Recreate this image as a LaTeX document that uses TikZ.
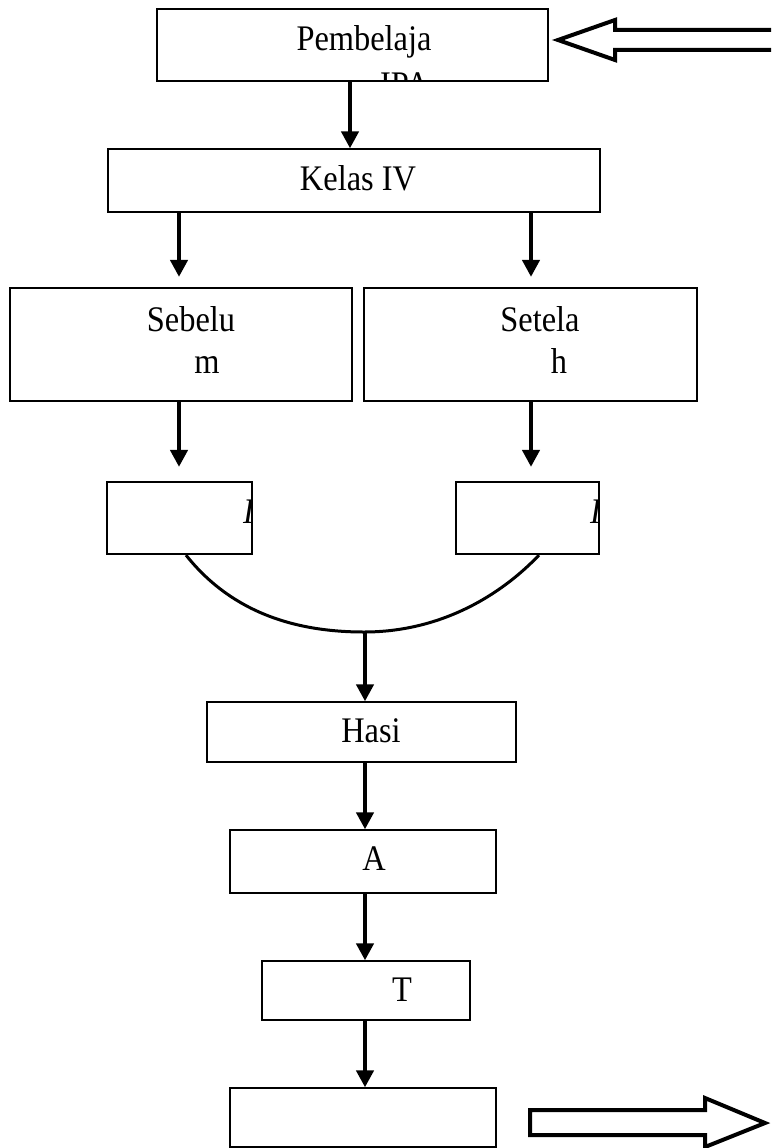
\documentclass[tikz,border=0pt]{standalone}
\usepackage{fontspec}
\setmainfont[FakeStretch=0.9]{Liberation Serif}
\usetikzlibrary{arrows.meta,calc}
\begin{document}
\begin{tikzpicture}[x=1pt,y=-1pt,
  thinbox/.style={draw,line width=1.3pt,rectangle,inner sep=0pt},
  thickbox/.style={draw,line width=2.2pt,rectangle,inner sep=0pt},
  lbl/.style={inner sep=0pt,font=\fontsize{36}{42}\selectfont,anchor=base},
  arr/.style={line width=4.5pt,-{Triangle[length=17pt,width=17pt]}},
  hollow/.style={draw,line width=4pt,fill=white,line join=miter}
]
\useasboundingbox (0,0) rectangle (771,1148);
\clip (0,0) rectangle (771,1148);
% boxes
\node[thinbox,minimum width=391pt,minimum height=72pt] (pemb) at (352.5,45) {};
\node[thinbox,minimum width=492pt,minimum height=63pt] (kelas) at (354,180.5) {};
\node[thickbox,minimum width=342pt,minimum height=113pt] (seb) at (181,344.5) {};
\node[thickbox,minimum width=333pt,minimum height=113pt] (set) at (530.5,344.5) {};
\node[thickbox,minimum width=145pt,minimum height=72pt] (kl) at (179.5,518) {};
\node[thickbox,minimum width=143pt,minimum height=72pt] (kr) at (527.5,518) {};
\node[thinbox,minimum width=309pt,minimum height=60pt] (hasi) at (361.5,732) {};
\node[thinbox,minimum width=266pt,minimum height=63pt] (aa) at (363,861.5) {};
\node[thinbox,minimum width=208pt,minimum height=59pt] (tt) at (366,990.5) {};
\node[thinbox,minimum width=266pt,minimum height=59pt] (ee) at (363,1117.5) {};
% texts
\node[lbl] (tpemb) at (364,51) {Pembelaja};
\begin{scope}
\clip (157,9) rectangle (548,79);
\node[lbl,anchor=base west] (tipa) at (380,96) {IPA};
\end{scope}
\node[lbl] (tkelas) at (358,190) {Kelas IV};
\node[lbl] (tseb1) at (191,331) {Sebelu};
\node[lbl] (tseb2) at (207,373) {m};
\node[lbl] (tset1) at (540,331) {Setela};
\node[lbl] (tset2) at (559,373) {h};
\begin{scope}
\clip (107,482) rectangle (251,554);
\node[lbl,anchor=base west,font=\fontsize{36}{42}\selectfont\itshape] (til) at (243,523) {I};
\end{scope}
\begin{scope}
\clip (456,482) rectangle (598,554);
\node[lbl,anchor=base west,font=\fontsize{36}{42}\selectfont\itshape] (tir) at (590,523) {I};
\end{scope}
\node[lbl] (thasi) at (371,742) {Hasi};
\node[lbl] (ta) at (374,870) {A};
\node[lbl] (tt1) at (402,1001) {T};
% connectors
\draw[arr] ([xshift=-2.5pt]pemb.south) -- ([xshift=-2.5pt]pemb.south |- kelas.north);
\draw[arr] (kelas.south -| 179,0) -- ([yshift=10pt]seb.north -| 179,0);
\draw[arr] (kelas.south -| 531,0) -- ([yshift=10pt]set.north -| 531,0);
\draw[arr] (seb.south -| 179,0) -- ([yshift=14pt]kl.north -| 179,0);
\draw[arr] (set.south -| 531,0) -- ([yshift=14pt]kr.north -| 531,0);
\coordinate (cb) at (364,632);
\draw[line width=3pt] ([xshift=6.5pt]kl.south) .. controls (228,608) and (288,632) .. (cb)
   .. controls (440,632) and (500,596) .. ([xshift=11.5pt]kr.south);
\draw[arr] ([yshift=1.5pt]cb -| 365,0) -- (hasi.north -| 365,0);
\draw[arr] (hasi.south -| 365,0) -- (aa.north -| 365,0);
\draw[arr] (aa.south -| 365,0) -- (tt.north -| 365,0);
\draw[arr] (tt.south -| 365,0) -- (ee.north -| 365,0);
% hollow block arrows
\draw[hollow] (558,40) -- (615,20) -- (615,30) -- (790,30) -- (790,50) -- (615,50) -- (615,60) -- cycle;
\draw[hollow] (765,1123) -- (705,1098) -- (705,1110) -- (530,1110) -- (530,1135) -- (705,1135) -- (705,1147) -- cycle;
\end{tikzpicture}
\end{document}
